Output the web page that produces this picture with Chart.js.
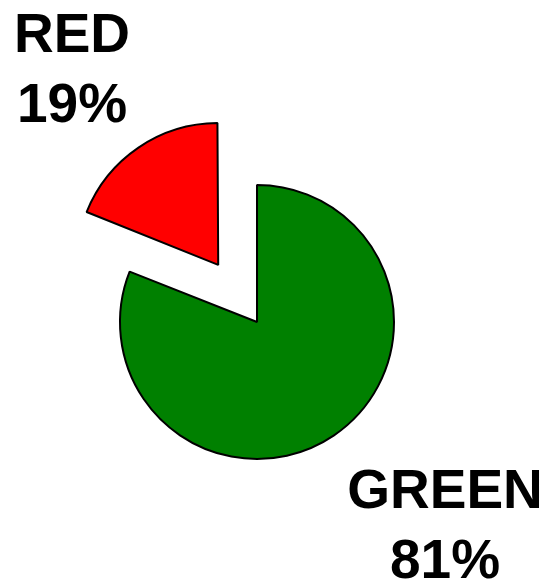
<!DOCTYPE html>
<html>
<head>
<meta charset="utf-8">
<script src="https://cdn.jsdelivr.net/npm/chart.js@4/dist/chart.umd.min.js"></script>
<style>
    html, body { margin: 0; padding: 0; background: #fff; }
    #wrap { width: 550px; height: 585px; position: relative; }
</style>
</head>
<body>
<div id="wrap"><canvas id="pie"></canvas></div>
<script>
// datos del gráfico
const categorias = ['GREEN', 'RED'];
const valores = [81, 19];
const colores = ['#008000', '#FF0000'];
const desplazados = [0, 276]; // offset de Chart.js (se divide entre 4 al dibujar)

// etiquetas grandes fuera del pastel
const etiquetasPlugin = {
    id: 'etiquetas',
    afterDraw(chart) {
        const ctx = chart.ctx;
        const total = valores.reduce((a, b) => a + b, 0);
        const sitios = { GREEN: [445, 508], RED: [72, 52] };
        ctx.save();
        ctx.fillStyle = '#000';
        ctx.font = 'bold 55px "Liberation Sans", Arial, sans-serif';
        ctx.textAlign = 'center';
        ctx.textBaseline = 'alphabetic';
        categorias.forEach((c, i) => {
            const [x, y] = sitios[c];
            const pct = Math.round(valores[i] / total * 100) + '%';
            ctx.fillText(c, x, y);
            ctx.fillText(pct, x, y + 70);
        });
        ctx.restore();
    }
};

new Chart(document.getElementById('pie'), {
    type: 'pie',
    data: {
        labels: categorias,
        datasets: [{
            data: valores,
            backgroundColor: colores,
            borderColor: '#000',
            borderWidth: 2,
            offset: desplazados,
            radius: 137
        }]
    },
    options: {
        responsive: true,
        maintainAspectRatio: false,
        animation: false,
        layout: { padding: { left: 0, right: 36, top: 59, bottom: 0 } },
        plugins: {
            legend: { display: false },
            tooltip: { enabled: false }
        }
    },
    plugins: [etiquetasPlugin]
});
</script>
</body>
</html>
